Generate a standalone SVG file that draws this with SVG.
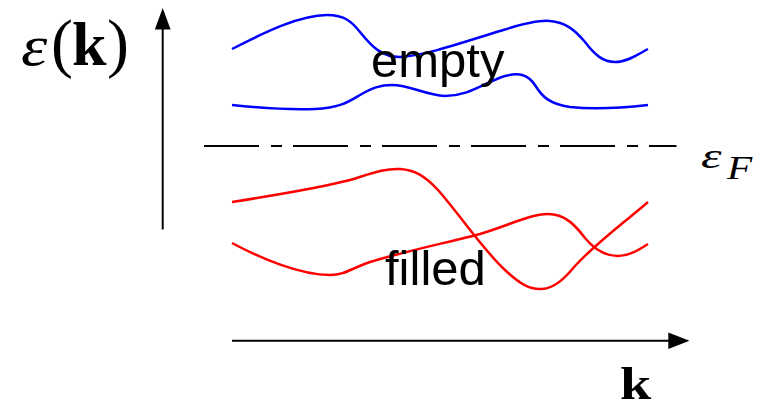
<svg xmlns="http://www.w3.org/2000/svg" width="765" height="411" viewBox="0 0 765 411">
  <style>
    .axis { stroke: #000; stroke-width: 2; fill: none; }
    .head { fill: #000; stroke: none; }
    .blue { stroke: #0000ff; stroke-width: 2.5; fill: none; }
    .red { stroke: #ff0000; stroke-width: 2.5; fill: none; }
    .fermi { stroke: #000; stroke-width: 2; fill: none; stroke-dasharray: 55 12 11 11; }
    .label { font-family: "Liberation Sans", Arial, sans-serif; font-size: 49px; fill: #000; }
    .math { font-family: "Liberation Serif", "Times New Roman", serif; fill: #000; }
  </style>
  <rect width="765" height="411" fill="#fff"/>
  <g id="connectors">
    <line class="axis" x1="162.7" y1="229.5" x2="162.7" y2="26"/>
    <polygon class="head" points="162.7,8 154.8,29.5 170.6,29.5"/>
    <line class="axis" x1="232" y1="340.7" x2="671" y2="340.7"/>
    <polygon class="head" points="689.5,340.7 668.3,332.4 668.3,349"/>
    <line class="fermi" x1="204" y1="146" x2="676.5" y2="146"/>
  </g>
  <g id="empty-bands">
    <path class="blue" d="M232,49 C265,32 300,15 327,15 C345,15 352,22 360,32 C372,47 382,57 400,57 C425,56 470,40 500,31 C525,23 540,20 550,21 C565,22 575,30 585,42 C595,55 603,62 615,62 C628,62 640,53 648,49"/>
    <path class="blue" d="M232,105 C260,108 290,110 315,109 C340,108 350,101 360,95 C372,88 380,85 392,85 C410,85 425,95 445,96 C470,96 485,82 505,76 C520,72 528,75 535,85 C542,97 550,104 570,107 C600,110 630,107 648,105"/>
    <text class="label" x="371" y="77">empty</text>
  </g>
  <g id="filled-bands">
    <path class="red" d="M232,202 C270,196 320,188 350,180 C370,174 385,168 400,169 C415,170 425,176 438,190 C460,215 485,252 505,270 C520,284 530,290 542,289 C555,288 565,278 575,266 C595,244 625,222 648,202"/>
    <path class="red" d="M232,243 C260,258 300,275 330,275 C345,275 352,268 370,262 C410,250 450,242 480,234 C510,225 530,214 548,214 C565,214 575,225 585,238 C595,250 605,256 618,256 C630,256 640,249 648,244"/>
    <text class="label" x="385" y="285">filled</text>
  </g>
  <g id="energy-label">
    <text class="math" transform="translate(21,65) scale(1.15,1)" font-size="58" font-style="italic">ε</text>
    <text class="math" x="51" y="65" font-size="66">(</text>
    <text class="math" x="72" y="65" font-size="62" font-weight="bold">k</text>
    <text class="math" x="107" y="65" font-size="66">)</text>
  </g>
  <g id="fermi-label">
    <text class="math" transform="translate(701,168) scale(1.45,1)" font-size="36" font-style="italic">ε</text>
    <text class="math" transform="translate(727,179) scale(1.25,1)" font-size="33" font-style="italic">F</text>
  </g>
  <g id="k-label">
    <text class="math" transform="translate(620,399) scale(1.22,1)" font-size="46" font-weight="bold">k</text>
  </g>
</svg>
